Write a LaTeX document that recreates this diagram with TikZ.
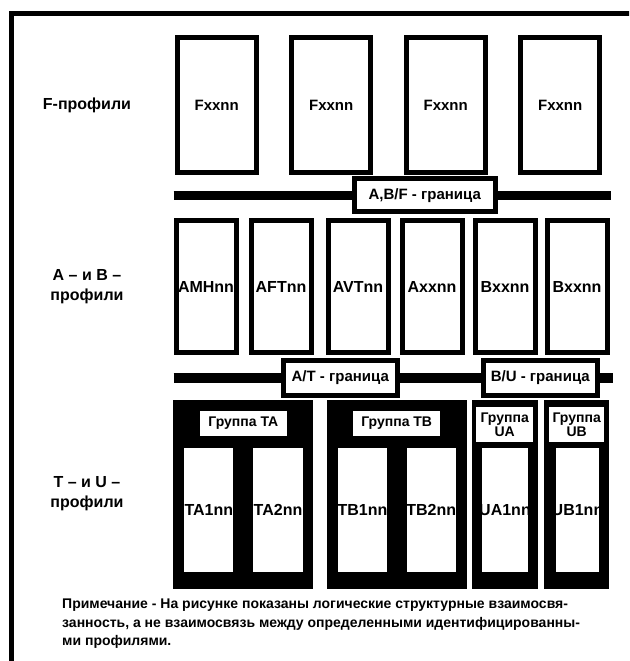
\documentclass[tikz,border=0pt]{standalone}
\usepackage{fontspec}
\setmainfont{Liberation Sans}
\usetikzlibrary{positioning}

\tikzset{
  profbox/.style={draw,line width=5pt,inner sep=0pt,font=\bfseries\fontsize{15}{15}\selectfont},
  grpbox/.style={fill=black,inner sep=0pt},
  cellbox/.style={fill=white,inner sep=0pt},
  celltext/.style={inner sep=0pt,font=\bfseries\fontsize{16}{16}\selectfont},
  grplabel/.style={fill=white,inner sep=0pt,align=center,font=\bfseries\fontsize{14}{14}\selectfont},
  tagbox/.style={draw,line width=5pt,fill=white,inner sep=0pt,font=\bfseries\fontsize{15}{15}\selectfont},
  sidelabel/.style={align=center,font=\bfseries\fontsize{16}{20}\selectfont},
  notetext/.style={align=left,inner sep=0pt,font=\bfseries\fontsize{14}{18.4}\selectfont}
}

\begin{document}
\begin{tikzpicture}[x=1pt,y=-1pt]
      \useasboundingbox (0,0) rectangle (629,661); \fill[white] (0,0) rectangle (629,661); \clip (0,0) rectangle (629,661);
      \draw[line width=5pt] (11.3,680) -- (11.3,14) -- (650,14);
      % F-profiles
      \foreach \i in {1,...,4} { \node[profbox,minimum width=79pt,minimum height=135pt] (f\i) at ({216.7+114.5*(\i-1)},105) {Fxxnn}; }
      \node[sidelabel] (fside) at (87,105) {F-профили};
      % A and B profiles
      \foreach \x/\t [count=\i] in {206/AMHnn,281/AFTnn,358/AVTnn,432/Axxnn,505/Bxxnn,577/Bxxnn} {
        \node[profbox,minimum width=60pt,minimum height=131.7pt,label={[celltext]center:\t}] (ab\i) at (\x,286.7) {}; }
      \node[sidelabel] (abside) at (87,287) {А – и В –\\профили};
      % boundaries
      \coordinate (bar1w) at (173.5,195.3); \coordinate (bar1e) at (611,195.3);
      \coordinate (bar2w) at (173.5,378); \coordinate (bar2e) at (613,378);
      \draw[line width=9.3pt] (bar1w) -- (bar1e); \draw[line width=10pt] (bar2w) -- (bar2e);
      \node[tagbox,minimum width=141pt,minimum height=33.5pt] (abf) at (424.8,195.2) {A,B/F - граница};
      \node[tagbox,minimum width=114.3pt,minimum height=35pt] (at) at (340.3,378) {A/T - граница};
      \node[tagbox,minimum width=114.3pt,minimum height=35pt] (bu) at (540.3,378) {B/U - граница};
      % T and U groups
      \node[grpbox,minimum width=140pt,minimum height=189pt] (gta) at (243.3,494.5) {};
      \node[grpbox,minimum width=140pt,minimum height=189pt] (gtb) at (396.7,494.5) {};
      \node[grpbox,minimum width=66.6pt,minimum height=189pt] (gua) at (505,494.5) {};
      \node[grpbox,minimum width=65pt,minimum height=189pt] (gub) at (576.8,494.5) {};
      \node[grplabel,minimum width=86.7pt,minimum height=25pt] (lta) at (243.3,423.2) {Группа TA};
      \node[grplabel,minimum width=86.7pt,minimum height=25pt] (ltb) at (396.7,423.2) {Группа TB};
      \node[grplabel,minimum width=57.3pt,minimum height=35.6pt] (lua) at (504.7,424.5) {Группа\\UA};
      \node[grplabel,minimum width=55.3pt,minimum height=35.6pt] (lub) at (576.7,424.5) {Группа\\UB};
      \foreach \x/\w/\n/\t in {208.8/49/ta1/TA1nn,278/49.4/ta2/TA2nn,362.5/48.4/tb1/TB1nn,431.3/49.3/tb2/TB2nn,505/45.4/ua1/UA1nn,577.5/43.6/ub1/UB1nn} {
        \node[cellbox,minimum width=\w pt,minimum height=123.4pt,label={[celltext]center:\t}] (\n) at (\x,510) {}; }
      \node[sidelabel] (tuside) at (87,494) {Т – и U –\\профили};
      % note
      \node[notetext,anchor=north west] (note) at (62,599) {Примечание - На рисунке показаны логические структурные взаимосвя-\\занность, а не взаимосвязь между определенными идентифицированны-\\ми профилями.};
    \end{tikzpicture}
\end{document}
